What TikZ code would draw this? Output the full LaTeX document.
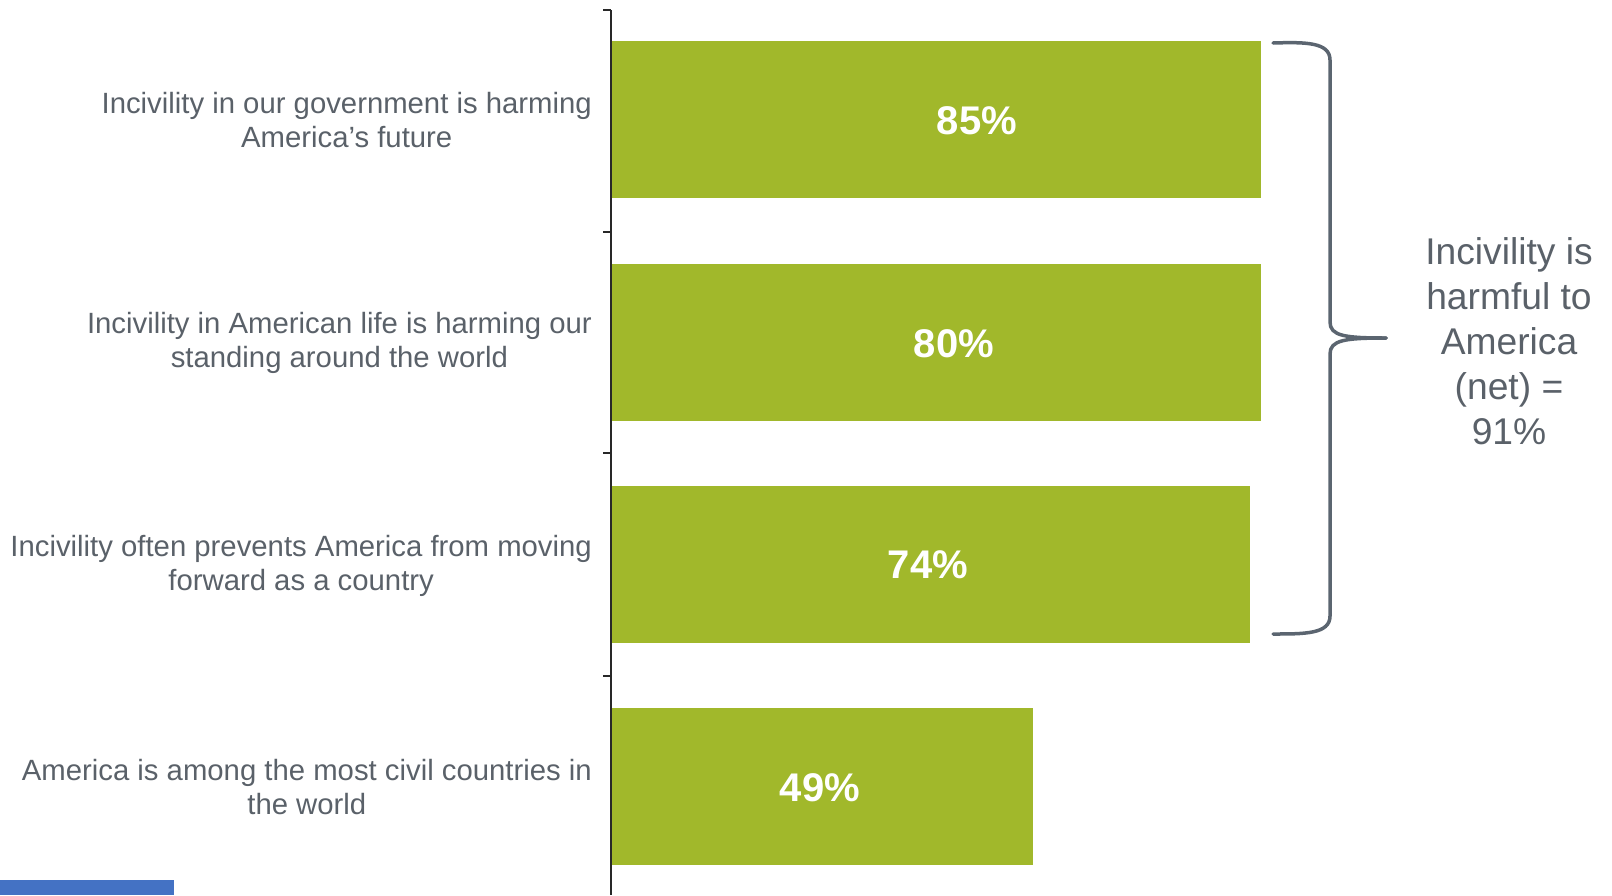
\documentclass[tikz,border=0pt]{standalone}
\usepackage{fontspec}
\setmainfont{Liberation Sans}
\definecolor{bargreen}{RGB}{161,184,43}
\definecolor{txtgray}{RGB}{90,97,105}
\definecolor{bracegray}{RGB}{91,101,112}
\definecolor{axisgray}{RGB}{40,40,40}
\definecolor{tabblue}{RGB}{68,114,196}
\tikzset{
  bar/.style={fill=bargreen, draw=none, inner sep=0pt, anchor=north west, minimum height=157pt},
  pct/.style={text=white, font=\fontsize{40}{44}\selectfont\bfseries, inner sep=0pt},
  cat/.style={text=txtgray, font=\fontsize{29.3}{33.5}\selectfont, align=center, anchor=east, inner sep=0pt},
  net/.style={text=txtgray, font=\fontsize{37.2}{45}\selectfont, align=center, inner sep=0pt},
  axisline/.style={draw=axisgray, line width=1.5pt},
  bracestyle/.style={draw=bracegray, line width=3.5pt, line cap=round}
}
\begin{document}
\begin{tikzpicture}[x=1pt, y=-1pt]
\useasboundingbox (0,0) rectangle (1612,895);
% bars
\node[bar, minimum width=650pt] (b1) at (611,41) {};
\node[bar, minimum width=650pt] (b2) at (611,264) {};
\node[bar, minimum width=639pt] (b3) at (611,486) {};
\node[bar, minimum width=422pt] (b4) at (611,708) {};
% percentages
\node[pct] (p1) at (977,121) {85\%};
\node[pct] (p2) at (954,344) {80\%};
\node[pct] (p3) at (928,565) {74\%};
\node[pct] (p4) at (820,788) {49\%};
% axis
\coordinate (atop) at (611,10);
\coordinate (abot) at (611,895);
\draw[axisline] (atop) -- (abot);
\foreach \yy in {10,232,453,676}{
  \draw[axisline] (603,\yy) -- (611,\yy);
}
% category labels
\node[cat] (c1) at (592,120) {Incivility in our government is harming\\America's future};
\node[cat] (c2) at (592,343) {Incivility in American life is harming our\\standing around the world};
\node[cat] (c3) at (592,566) {Incivility often prevents America from moving\\forward as a country};
\node[cat] (c4) at (592,787) {America is among the most civil countries in\\the world};
% brace
\coordinate (btop) at (1273,43);
\coordinate (btip) at (1386,338);
\coordinate (bbot) at (1273,634);
\draw[bracestyle] (btop) .. controls (1305,42) and (1330,42) .. (1330,60) -- (1330,322)
  .. controls (1330,336) and (1345,338) .. (btip);
\draw[bracestyle] (btip) .. controls (1345,338) and (1330,340) .. (1330,354) -- (1330,616)
  .. controls (1330,634) and (1305,634) .. (bbot);
% net text
\node[net] (n) at (1509,341) {Incivility is\\harmful to\\America\\(net) =\\91\%};
% blue tab
\fill[tabblue] (0,880) rectangle (174,895);
\end{tikzpicture}
\end{document}
